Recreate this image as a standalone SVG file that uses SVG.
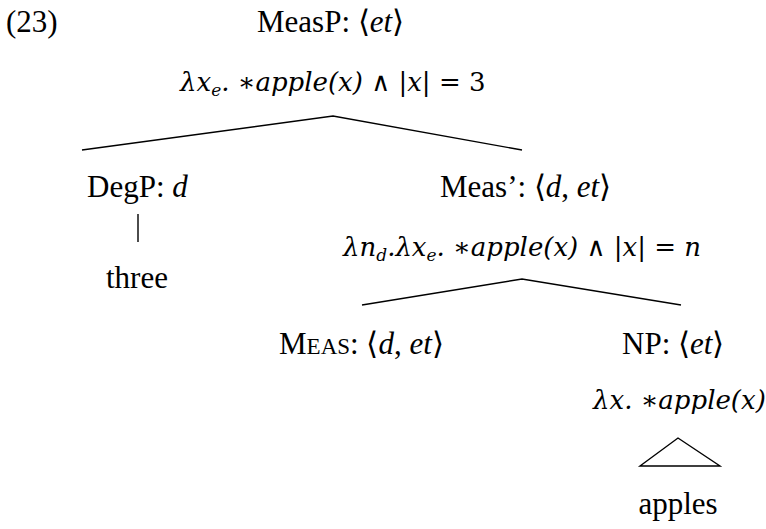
<svg xmlns="http://www.w3.org/2000/svg" width="766" height="529" viewBox="0 0 766 529">
<style>
text{font-family:"Liberation Serif","Times New Roman",serif;font-size:31px;fill:#000}
.m{font-family:"DejaVu Serif","Liberation Serif",serif;font-size:26px}
.i{font-style:italic}
.s{font-size:17px}
.sc{font-size:23px}
.e{stroke:#000;stroke-width:1.4;fill:none}
</style>
<rect width="766" height="529" fill="#fff"/>
<text x="6" y="32">(23)</text>
<g id="MeasP">
<text x="257" y="32">MeasP: ⟨<tspan class="i">et</tspan>⟩</text>
<text x="180" y="91" class="m i">λx<tspan class="s" dy="5">e</tspan><tspan dy="-5">. ∗apple(x) </tspan><tspan font-style="normal">∧ |</tspan>x<tspan font-style="normal">| = 3</tspan></text>
</g>
<g id="DegP">
<text x="87" y="197">DegP: <tspan class="i">d</tspan></text>
</g>
<g id="three">
<text x="106" y="288">three</text>
</g>
<g id="MeasBar">
<text x="440" y="197">Meas’: ⟨<tspan class="i">d</tspan>, <tspan class="i">et</tspan>⟩</text>
<text x="343" y="256" class="m i">λn<tspan class="s" dy="5">d</tspan><tspan dy="-5">.λx</tspan><tspan class="s" dy="5">e</tspan><tspan dy="-5">. ∗apple(x) </tspan><tspan font-style="normal">∧ |</tspan>x<tspan font-style="normal">| = </tspan>n</text>
</g>
<g id="Meas">
<text x="279" y="354">M<tspan class="sc">EAS</tspan>: ⟨<tspan class="i">d</tspan>, <tspan class="i">et</tspan>⟩</text>
</g>
<g id="NP">
<text x="622" y="354">NP: ⟨<tspan class="i">et</tspan>⟩</text>
<text x="593" y="409" class="m i">λx. ∗apple(x)</text>
</g>
<g id="apples">
<text x="678" y="514" text-anchor="middle">apples</text>
</g>
<g id="connectors">
<polyline class="e" points="82,150 333,116 522,150"/>
<line class="e" x1="138" y1="214" x2="138" y2="242"/>
<polyline class="e" points="362,305 522,279 681,305"/>
<polygon class="e" points="640,466 678,438 720,466"/>
</g>
</svg>
